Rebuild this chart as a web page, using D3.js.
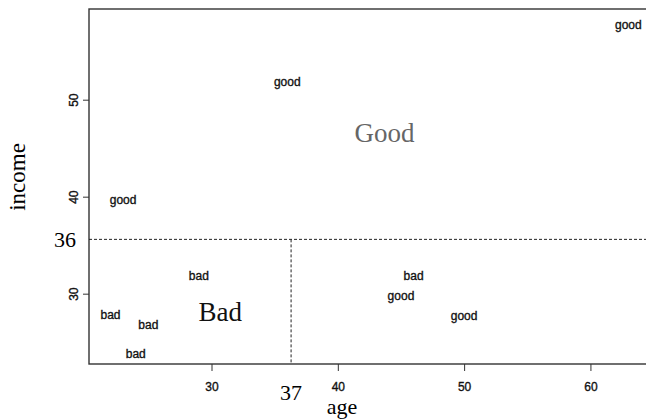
<!DOCTYPE html>
<html>
<head>
<meta charset="utf-8">
<script src="https://cdn.jsdelivr.net/npm/d3@7"></script>
<style>
  body { margin: 0; background: #fff; }
  svg { display: block; }
  .tick text, .pt { font-family: "Liberation Sans", Arial, sans-serif; font-size: 12px; fill: #111; stroke: #111; stroke-width: 0.35px; }
</style>
</head>
<body>
<div id="chart"></div>
<script>
// observations: age, income and class label
var ages = [23, 36, 63, 22, 25, 24, 29, 46, 45, 50];
var incomes = [39.7, 51.8, 57.7, 27.8, 26.8, 23.8, 31.8, 31.8, 29.8, 27.7];
var classes = ["good", "good", "good", "bad", "bad", "bad", "bad", "bad", "good", "good"];

var xTicks = [30, 40, 50, 60];
var yTicks = [30, 40, 50];

// tree splits
var incomeSplit = 35.6, incomeSplitLabel = "36";
var ageSplit = 36.3, ageSplitLabel = "37";

// leaf labels
var regions = [
  { name: "Good", age: 43.7, income: 45.6, color: "#666" },
  { name: "Bad", age: 30.7, income: 27.2, color: "#111" }
];

var width = 646, height = 420;
// note: "top" is a reserved window prop, so use plot* names
var plotL = 89, plotT = 9, plotB = 364, plotR = 700;

var svg = d3.select("#chart").append("svg")
  .attr("width", width)
  .attr("height", height);

var x = d3.scaleLinear().domain([20.3, 64.4]).range([plotL, 646]);
var y = d3.scaleLinear().domain([22.75, 59.35]).range([plotB, plotT]);

// frame
svg.append("rect")
  .attr("x", plotL).attr("y", plotT)
  .attr("width", plotR - plotL).attr("height", plotB - plotT)
  .attr("fill", "none")
  .attr("stroke", "#333")
  .attr("stroke-width", 1.4);

// axes
var xAxis = svg.append("g")
  .attr("transform", "translate(0," + plotB + ")")
  .call(d3.axisBottom(x).tickValues(xTicks).tickSize(7).tickPadding(11));
xAxis.select(".domain").remove();
xAxis.selectAll(".tick line").attr("stroke", "#333");

var yAxis = svg.append("g")
  .attr("transform", "translate(" + plotL + ",0)")
  .call(d3.axisLeft(y).tickValues(yTicks).tickSize(6));
yAxis.select(".domain").remove();
yAxis.selectAll(".tick line").attr("stroke", "#333");
yAxis.selectAll(".tick text")
  .attr("x", 0).attr("y", 0).attr("dy", null)
  .attr("text-anchor", "middle")
  .attr("transform", "translate(-11,0) rotate(-90)");

// split lines
svg.append("line")
  .attr("x1", plotL).attr("x2", plotR)
  .attr("y1", y(incomeSplit)).attr("y2", y(incomeSplit))
  .attr("stroke", "#222").attr("stroke-width", 1)
  .attr("stroke-dasharray", "3,2");

svg.append("line")
  .attr("x1", x(ageSplit)).attr("x2", x(ageSplit))
  .attr("y1", y(incomeSplit)).attr("y2", plotB)
  .attr("stroke", "#222").attr("stroke-width", 1)
  .attr("stroke-dasharray", "3,2");

var serif = "'Liberation Serif', 'Times New Roman', serif";

svg.append("text")
  .attr("x", 65).attr("y", y(incomeSplit))
  .attr("dy", "0.35em")
  .attr("text-anchor", "middle")
  .attr("font-family", serif).attr("font-size", 22)
  .text(incomeSplitLabel);

svg.append("text")
  .attr("x", x(ageSplit)).attr("y", 400)
  .attr("text-anchor", "middle")
  .attr("font-family", serif).attr("font-size", 22)
  .text(ageSplitLabel);

// axis titles
svg.append("text")
  .attr("x", 342).attr("y", 414)
  .attr("text-anchor", "middle")
  .attr("font-family", serif).attr("font-size", 22)
  .text("age");

svg.append("text")
  .attr("transform", "translate(25,177) rotate(-90)")
  .attr("text-anchor", "middle")
  .attr("font-family", serif).attr("font-size", 23)
  .text("income");

// region labels
svg.selectAll(".region")
  .data(regions)
  .enter().append("text")
  .attr("class", "region")
  .attr("x", function(d) { return x(d.age); })
  .attr("y", function(d) { return y(d.income); })
  .attr("text-anchor", "middle")
  .attr("font-family", serif).attr("font-size", 27)
  .attr("fill", function(d) { return d.color; })
  .text(function(d) { return d.name; });

// points as text labels
svg.selectAll(".pt")
  .data(ages)
  .enter().append("text")
  .attr("class", "pt")
  .attr("x", function(d) { return x(d); })
  .attr("y", function(d, i) { return y(incomes[i]); })
  .attr("dy", "0.35em")
  .attr("text-anchor", "middle")
  .text(function(d, i) { return classes[i]; });
</script>
</body>
</html>
